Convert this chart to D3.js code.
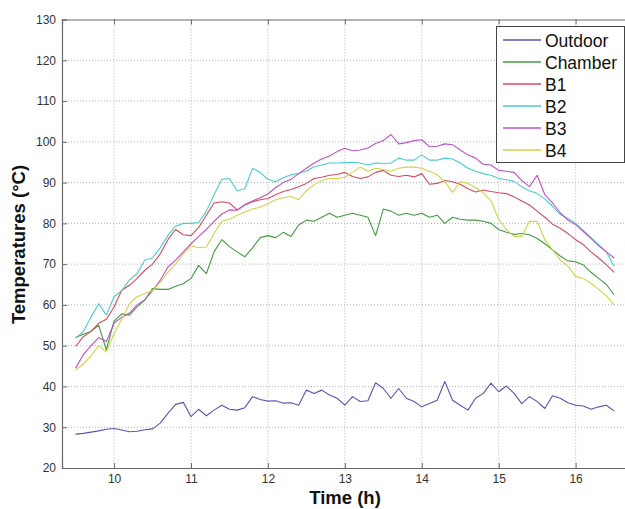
<!DOCTYPE html>
<html>
<head>
<meta charset="utf-8">
<script src="https://cdn.jsdelivr.net/npm/d3@7"></script>
<style>
    body { margin: 0; background: #fff; }
    svg { display: block; font-family: "Liberation Sans", Arial, sans-serif; }
    .tick-label { font-size: 12px; fill: #333; }
    .axis-title { font-size: 18.5px; font-weight: bold; fill: #111; }
    .legend-text { font-size: 17.5px; fill: #111; }
</style>
</head>
<body>
<svg width="625" height="509"></svg>
<script>
// time of day (h)
const times = [
    9.5, 9.6, 9.7, 9.8, 9.9, 10.0, 10.1, 10.2, 10.3, 10.4, 10.5, 10.6, 10.7, 10.8, 10.9,
    11.0, 11.1, 11.2, 11.3, 11.4, 11.5, 11.6, 11.7, 11.8, 11.9, 12.0, 12.1, 12.2, 12.3, 12.4,
    12.5, 12.6, 12.7, 12.8, 12.9, 13.0, 13.1, 13.2, 13.3, 13.4, 13.5, 13.6, 13.7, 13.8, 13.9,
    14.0, 14.1, 14.2, 14.3, 14.4, 14.5, 14.6, 14.7, 14.8, 14.9, 15.0, 15.1, 15.2, 15.3, 15.4,
    15.5, 15.6, 15.7, 15.8, 15.9, 16.0, 16.1, 16.2, 16.3, 16.4, 16.5
];

const outdoor = [
    28.3, 28.5, 28.8, 29.1, 29.5, 29.7, 29.3, 28.9, 29.0, 29.4, 29.6, 31.0, 33.4, 35.6, 36.1,
    32.6, 34.4, 32.8, 34.2, 35.4, 34.4, 34.2, 34.8, 37.5, 36.8, 36.4, 36.5, 35.9, 36.0, 35.4,
    39.1, 38.3, 39.1, 37.9, 37.1, 35.4, 37.5, 36.3, 36.5, 40.9, 39.5, 37.1, 39.5, 37.1, 36.3,
    35.0, 35.8, 36.6, 41.2, 36.6, 35.4, 34.2, 37.1, 38.3, 40.8, 38.7, 40.1, 38.3, 35.8, 37.5,
    36.3, 34.6, 37.7, 37.1, 36.0, 35.4, 35.2, 34.4, 35.0, 35.4, 34.0
];

const chamber = [
    52.0, 52.8, 53.5, 55.0, 49.0, 56.0, 57.8, 57.5, 59.5, 61.2, 64.0, 63.8, 63.8, 64.6, 65.2,
    66.5, 69.7, 67.7, 73.0, 76.0, 74.3, 73.0, 71.8, 74.0, 76.5, 77.0, 76.5, 77.8, 76.8, 79.6,
    80.8, 80.5, 81.5, 82.5, 81.5, 82.0, 82.5, 82.0, 81.5, 77.0, 83.5, 83.0, 82.0, 82.5, 82.0,
    82.5, 81.5, 82.0, 80.0, 81.5, 81.0, 80.8, 80.8, 80.5, 80.0, 78.5, 77.8, 77.3, 77.5, 77.2,
    76.3, 75.0, 73.5, 72.0, 70.8, 70.6, 69.8, 68.0, 66.5, 65.0, 62.5
];

const b1 = [
    49.8, 52.2, 53.5, 55.5, 56.5, 59.5, 63.6, 64.8, 66.5, 68.5, 70.0, 72.5, 76.0, 78.5, 77.2,
    77.0, 79.0, 82.0, 85.0, 85.3, 85.0, 83.3, 84.5, 85.3, 85.8, 86.1, 87.0, 87.8, 88.3, 89.0,
    89.8, 91.0, 91.3, 91.8, 92.0, 92.5, 91.5, 91.0, 91.4, 92.5, 93.0, 91.8, 91.5, 91.8, 91.4,
    92.2, 89.6, 89.8, 90.5, 90.2, 89.6, 88.5, 87.7, 88.2, 87.8, 87.5, 87.3, 86.5, 85.5, 84.5,
    83.0, 81.5, 79.8, 78.8, 77.5, 76.0, 74.8, 73.0, 71.5, 69.8, 68.0
];

const b2 = [
    51.8, 53.5, 57.0, 60.3, 57.5, 62.0, 63.5, 66.1, 67.7, 71.0, 71.5, 74.0, 77.0, 79.3, 80.0,
    80.0, 80.2, 83.0, 87.0, 90.8, 91.0, 88.0, 88.5, 93.5, 92.5, 90.8, 90.2, 91.2, 91.9, 92.3,
    92.8, 93.9, 94.3, 94.8, 94.8, 94.9, 95.0, 94.8, 94.3, 94.8, 94.7, 94.8, 96.0, 95.5, 95.5,
    96.8, 95.5, 95.5, 96.0, 95.8, 94.8, 93.5, 92.8, 92.2, 91.8, 91.0, 90.7, 90.3, 89.0, 88.0,
    87.3, 86.0, 84.2, 82.2, 81.2, 80.0, 78.3, 76.5, 74.8, 73.0, 69.5
];

const b3 = [
    44.5, 47.8, 50.0, 52.0, 51.0, 55.5, 57.0, 58.0, 60.0, 61.3, 63.5, 66.0, 69.3, 71.0, 73.0,
    75.0, 76.8, 78.5, 80.5, 82.3, 83.3, 83.2, 84.6, 85.5, 86.3, 87.2, 88.8, 90.0, 90.8, 92.2,
    93.5, 94.8, 95.8, 96.5, 97.6, 98.4, 97.8, 98.0, 98.5, 99.6, 100.3, 101.8, 99.5, 99.8, 100.3,
    100.5, 98.8, 98.9, 99.5, 99.3, 98.0, 96.8, 96.0, 94.5, 94.3, 93.0, 92.8, 92.5, 90.5, 89.0,
    91.8, 87.0, 85.0, 82.6, 80.8, 79.7, 78.0, 76.3, 74.5, 73.0, 71.5
];

const b4 = [
    44.0, 45.5, 47.5, 50.0, 48.5, 53.0, 56.5, 60.3, 62.0, 62.8, 63.5, 65.5, 68.0, 70.0, 72.5,
    74.5, 74.0, 74.2, 77.5, 80.5, 81.0, 82.0, 82.8, 83.5, 84.0, 84.8, 85.8, 86.3, 86.6, 85.8,
    88.0, 89.5, 90.5, 91.0, 91.0, 91.3, 92.5, 93.8, 92.8, 93.5, 93.2, 92.8, 93.5, 93.8, 93.8,
    93.5, 92.8, 91.9, 90.2, 87.6, 90.2, 89.8, 88.8, 87.5, 85.5, 81.0, 78.5, 76.8, 76.8, 80.5,
    80.5, 76.0, 73.5, 71.0, 69.5, 67.0, 66.5, 65.3, 63.8, 62.2, 60.0
];

const seriesNames = ["Outdoor", "Chamber", "B1", "B2", "B3", "B4"];
const seriesValues = [outdoor, chamber, b1, b2, b3, b4];
const seriesColors = ["#5656b4", "#449a44", "#d84a5c", "#4ccccc", "#c052c6", "#d2d24a"];

const xTicks = [10, 11, 12, 13, 14, 15, 16];
const yTicks = [20, 30, 40, 50, 60, 70, 80, 90, 100, 110, 120, 130];

const svg = d3.select("svg");

// plot box
const plotLeft = 62, plotRight = 626, plotTop = 19.5, plotBottom = 468;

const x = d3.scaleLinear().domain([9.3234, 16.655]).range([plotLeft, plotRight]);
const y = d3.scaleLinear().domain([20, 130]).range([plotBottom, plotTop]);

// grid
svg.append("g")
    .selectAll("line")
    .data(xTicks)
    .join("line")
    .attr("x1", d => x(d)).attr("x2", d => x(d))
    .attr("y1", plotTop).attr("y2", plotBottom)
    .attr("stroke", "#b4b4b4")
    .attr("stroke-dasharray", "1,2");

svg.append("g")
    .selectAll("line")
    .data(yTicks.slice(1, -1))
    .join("line")
    .attr("x1", plotLeft).attr("x2", plotRight)
    .attr("y1", d => y(d)).attr("y2", d => y(d))
    .attr("stroke", "#b4b4b4")
    .attr("stroke-dasharray", "1,2");

// series
const line = d3.line()
    .x((d, i) => x(times[i]))
    .y(d => y(d));

svg.append("g")
    .selectAll("path")
    .data(seriesValues)
    .join("path")
    .attr("d", line)
    .attr("fill", "none")
    .attr("stroke", (d, i) => seriesColors[i])
    .attr("stroke-width", 1.1)
    .attr("stroke-linejoin", "round");

// axes (inward ticks, box style)
const axisColor = "#6a6a6a";

const xBottom = svg.append("g")
    .attr("transform", `translate(0,${plotBottom})`)
    .call(d3.axisBottom(x).tickValues(xTicks).tickSize(-5).tickPadding(6));
const yLeft = svg.append("g")
    .attr("transform", `translate(${plotLeft},0)`)
    .call(d3.axisLeft(y).tickValues(yTicks).tickSize(-5).tickPadding(6));
const xTop = svg.append("g")
    .attr("transform", `translate(0,${plotTop})`)
    .call(d3.axisTop(x).tickValues(xTicks).tickSize(-5).tickFormat(""));

[xBottom, yLeft, xTop].forEach(g => {
    g.select(".domain").attr("stroke", axisColor).attr("stroke-width", 1.2);
    g.selectAll(".tick line").attr("stroke", axisColor);
    g.selectAll(".tick text")
        .attr("class", "tick-label")
        .attr("font-family", null)
        .attr("font-size", null);
});

// axis titles
svg.append("text")
    .attr("class", "axis-title")
    .attr("x", 345)
    .attr("y", 504)
    .attr("text-anchor", "middle")
    .text("Time (h)");

svg.append("text")
    .attr("class", "axis-title")
    .attr("transform", "translate(25,244.5) rotate(-90)")
    .attr("text-anchor", "middle")
    .text("Temperatures (°C)");

// legend
const legend = svg.append("g")
    .attr("transform", "translate(496,26)");

legend.append("rect")
    .attr("x", 0.5)
    .attr("y", 0.5)
    .attr("width", 128)
    .attr("height", 136)
    .attr("fill", "#fff")
    .attr("stroke", "#444");

const item = legend.selectAll("g.item")
    .data(seriesNames)
    .join("g")
    .attr("class", "item")
    .attr("transform", (d, i) => `translate(0,${14 + i * 22})`);

item.append("line")
    .attr("x1", 7).attr("x2", 45)
    .attr("stroke", (d, i) => seriesColors[i])
    .attr("stroke-width", 1.3);

item.append("text")
    .attr("class", "legend-text")
    .attr("x", 49)
    .attr("y", 6.5)
    .text(d => d);
</script>
</body>
</html>
